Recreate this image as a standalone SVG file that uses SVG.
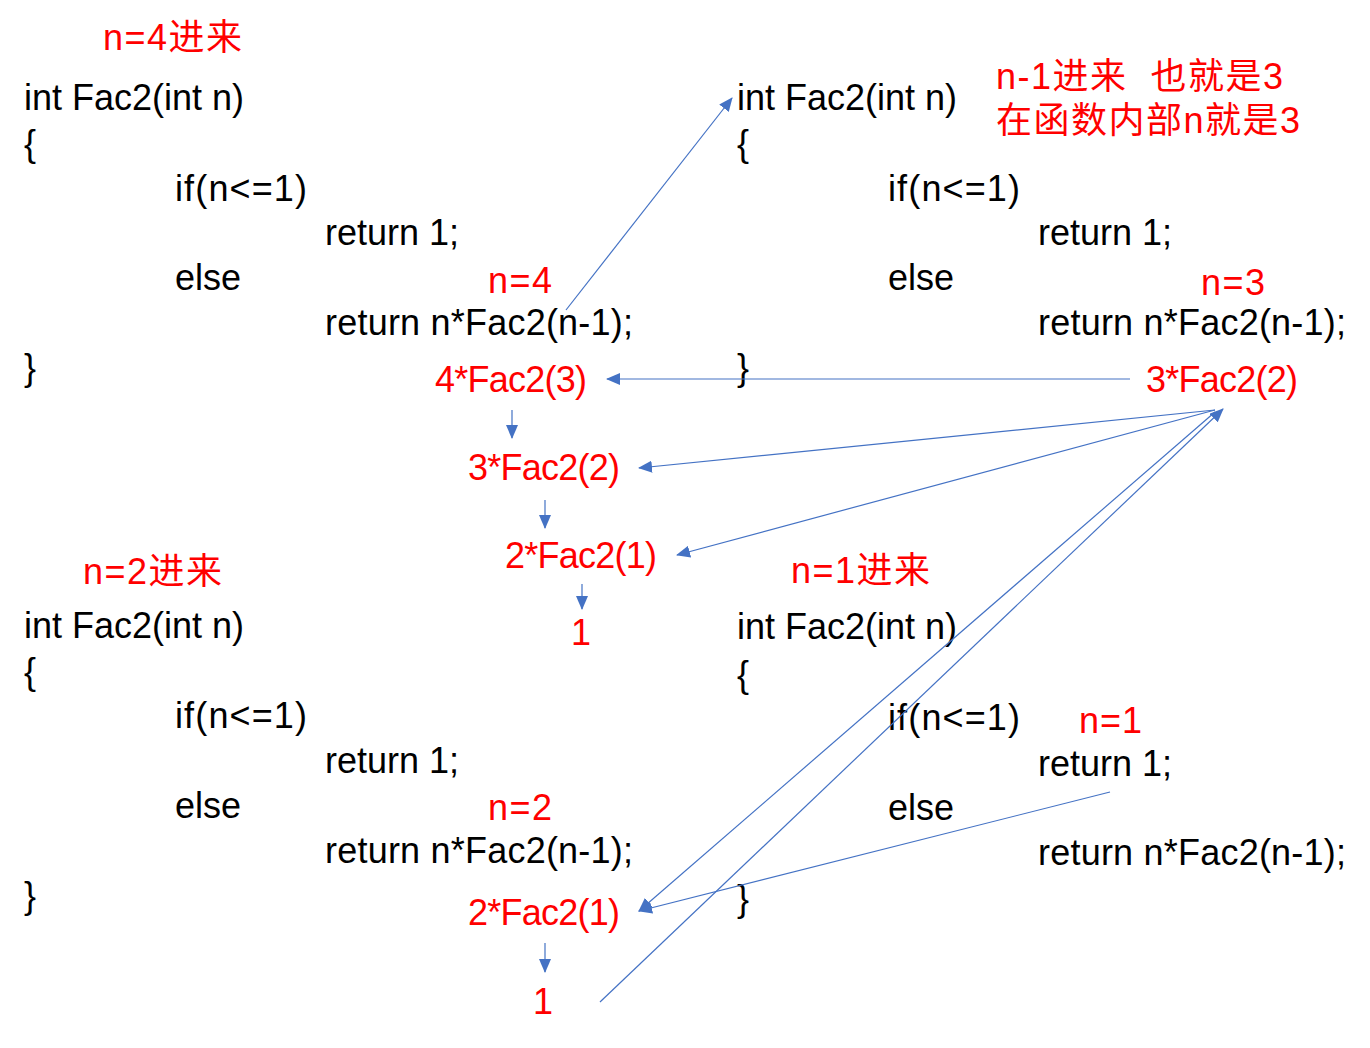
<svg xmlns="http://www.w3.org/2000/svg" width="1370" height="1048" viewBox="0 0 1370 1048">
<defs>
<style>
.code{font-family:"Liberation Sans","Noto Sans CJK SC",sans-serif;font-size:36px;fill:#000}
.red{font-family:"Liberation Sans","Noto Sans CJK SC",sans-serif;font-size:36px;fill:#FF0000;white-space:pre}
.ln{stroke:#4472C4;stroke-width:1.2;fill:none;marker-end:url(#ah)}
</style>
<marker id="ah" markerUnits="userSpaceOnUse" markerWidth="14" markerHeight="12" refX="13" refY="6" orient="auto">
<path d="M0,0 L14,6 L0,12 Z" fill="#4472C4"/>
</marker>
</defs>
<rect width="1370" height="1048" fill="#fff"/>
<g id="block-n4">
<text class="code" x="24" y="110">int Fac2(int n)</text>
<text class="code" x="24" y="156">{</text>
<text class="code" x="175" y="201" textLength="132">if(n&lt;=1)</text>
<text class="code" x="325" y="245">return 1;</text>
<text class="code" x="175" y="290">else</text>
<text class="code" x="325" y="335" textLength="308">return n*Fac2(n-1);</text>
<text class="code" x="24" y="380">}</text>
</g>
<g id="block-n3">
<text class="code" x="737" y="110">int Fac2(int n)</text>
<text class="code" x="737" y="156">{</text>
<text class="code" x="888" y="201" textLength="132">if(n&lt;=1)</text>
<text class="code" x="1038" y="245">return 1;</text>
<text class="code" x="888" y="290">else</text>
<text class="code" x="1038" y="335" textLength="308">return n*Fac2(n-1);</text>
<text class="code" x="737" y="380">}</text>
</g>
<g id="block-n2">
<text class="code" x="24" y="638">int Fac2(int n)</text>
<text class="code" x="24" y="684">{</text>
<text class="code" x="175" y="728" textLength="132">if(n&lt;=1)</text>
<text class="code" x="325" y="773">return 1;</text>
<text class="code" x="175" y="818">else</text>
<text class="code" x="325" y="863" textLength="308">return n*Fac2(n-1);</text>
<text class="code" x="24" y="908">}</text>
</g>
<g id="block-n1">
<text class="code" x="737" y="639">int Fac2(int n)</text>
<text class="code" x="737" y="687">{</text>
<text class="code" x="888" y="730" textLength="132">if(n&lt;=1)</text>
<text class="code" x="1038" y="776">return 1;</text>
<text class="code" x="888" y="820">else</text>
<text class="code" x="1038" y="865" textLength="308">return n*Fac2(n-1);</text>
<text class="code" x="737" y="911">}</text>
</g>
<g id="labels">
<text class="red" x="103" y="50" textLength="139">n=4进来</text>
<text class="red" x="996" y="89" xml:space="preserve" textLength="287">n-1进来  也就是3</text>
<text class="red" x="996" y="133" textLength="304">在函数内部n就是3</text>
<text class="red" x="488" y="293" textLength="64">n=4</text>
<text class="red" x="1201" y="295" textLength="64">n=3</text>
<text class="red" x="83" y="584" textLength="139">n=2进来</text>
<text class="red" x="791" y="583" textLength="139">n=1进来</text>
<text class="red" x="1079" y="733" textLength="63">n=1</text>
<text class="red" x="488" y="820" textLength="64">n=2</text>
</g>
<g id="expr-4fac3"><text class="red" x="435" y="392" textLength="152">4*Fac2(3)</text></g>
<g id="expr-3fac2-right"><text class="red" x="1146" y="392" textLength="152">3*Fac2(2)</text></g>
<g id="expr-3fac2"><text class="red" x="468" y="480" textLength="152">3*Fac2(2)</text></g>
<g id="expr-2fac1"><text class="red" x="505" y="568" textLength="152">2*Fac2(1)</text></g>
<g id="expr-1a"><text class="red" x="571" y="645">1</text></g>
<g id="expr-2fac1-b"><text class="red" x="468" y="925" textLength="152">2*Fac2(1)</text></g>
<g id="expr-1b"><text class="red" x="533" y="1014">1</text></g>
<g id="connectors">
<line class="ln" x1="566" y1="310" x2="732" y2="98"/>
<line class="ln" x1="1130" y1="379" x2="607" y2="379"/>
<line class="ln" x1="512" y1="410" x2="512" y2="438"/>
<line class="ln" x1="1215" y1="410" x2="639" y2="468"/>
<line class="ln" x1="1215" y1="410" x2="677" y2="555"/>
<line class="ln" x1="545" y1="500" x2="545" y2="528"/>
<line class="ln" x1="582" y1="584" x2="582" y2="609"/>
<line class="ln" x1="1215" y1="412" x2="639" y2="911"/>
<line class="ln" x1="600" y1="1002" x2="1223" y2="409"/>
<line class="ln" x1="1110" y1="792" x2="639" y2="911"/>
<line class="ln" x1="545" y1="943" x2="545" y2="972"/>
</g>
</svg>
